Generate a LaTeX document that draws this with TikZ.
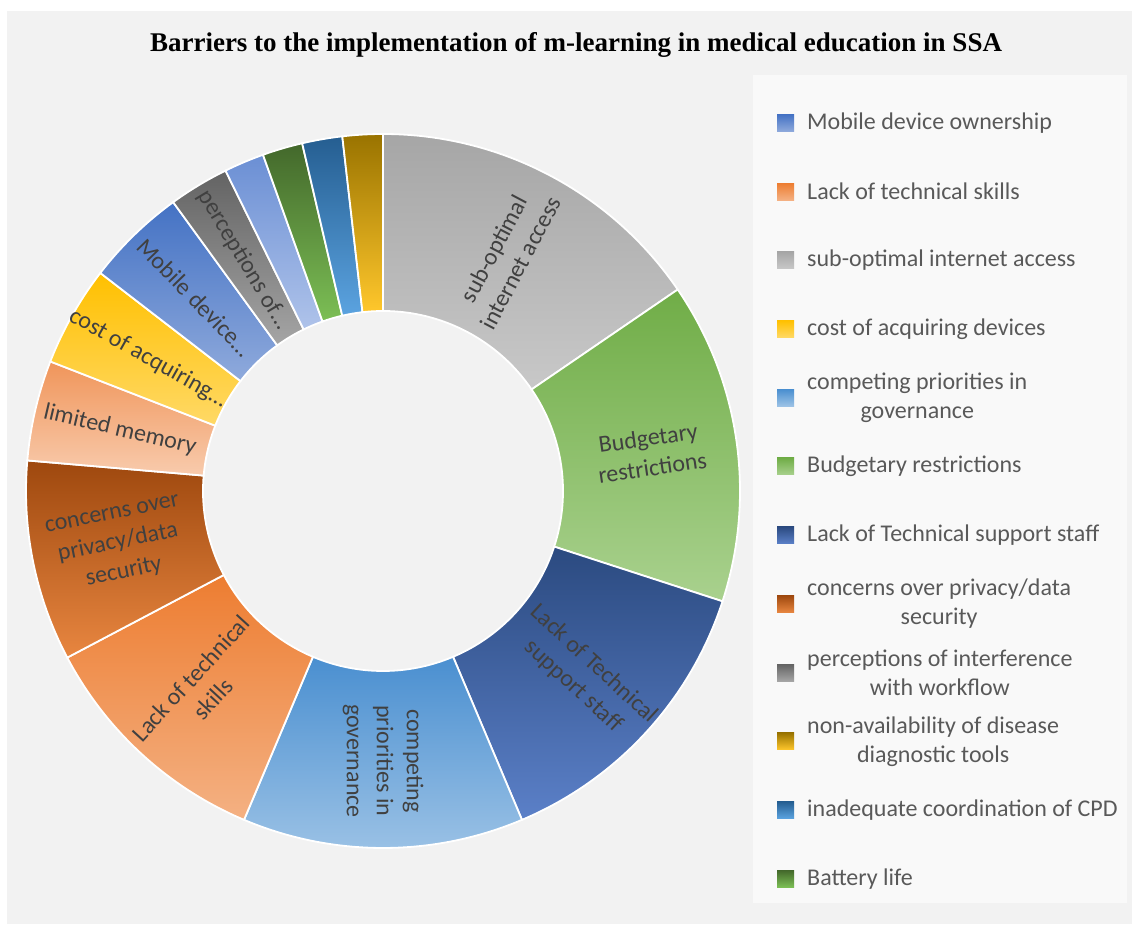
\documentclass[tikz,border=0pt]{standalone}
\usepackage{fontspec}
\setmainfont{Carlito}
\newfontfamily\titlefont{Liberation Serif}
\definecolor{bgcol}{HTML}{F2F2F2}
\definecolor{legbg}{HTML}{F9F9F9}
\definecolor{lbltext}{HTML}{404040}
\definecolor{legtext}{HTML}{595959}
% segment colours (top / bottom)
\definecolor{subT}{HTML}{A6A6A6}\definecolor{subB}{HTML}{C8C8C8}
\definecolor{budT}{HTML}{70AD47}\definecolor{budB}{HTML}{A9D18E}
\definecolor{ltsT}{HTML}{2B4A80}\definecolor{ltsB}{HTML}{5B80C8}
\definecolor{comT}{HTML}{4A8FD0}\definecolor{comB}{HTML}{9DC3E6}
\definecolor{lskT}{HTML}{ED7D31}\definecolor{lskB}{HTML}{F4B183}
\definecolor{conT}{HTML}{9E480E}\definecolor{conB}{HTML}{E88640}
\definecolor{limT}{HTML}{F0955A}\definecolor{limB}{HTML}{F8CBAD}
\definecolor{cosT}{HTML}{FFC000}\definecolor{cosB}{HTML}{FFD966}
\definecolor{mobT}{HTML}{4472C4}\definecolor{mobB}{HTML}{8FAADC}
\definecolor{perT}{HTML}{636363}\definecolor{perB}{HTML}{A5A5A5}
\definecolor{lbuT}{HTML}{6B8FD4}\definecolor{lbuB}{HTML}{AFC3EA}
\definecolor{batT}{HTML}{43682B}\definecolor{batB}{HTML}{7CBF55}
\definecolor{cpdT}{HTML}{255E91}\definecolor{cpdB}{HTML}{5BA3E0}
\definecolor{navT}{HTML}{997300}\definecolor{navB}{HTML}{FFC72C}
\newcommand\donutseg[4]{%
  \path[seg, top color=#3, bottom color=#4, shift={(C)}]
    (#1:357) arc[start angle=#1, end angle=#2, radius=357]
    -- (#2:180) arc[start angle=#2, end angle=#1, radius=180] -- cycle;}
\begin{document}
\begin{tikzpicture}[x=1pt,y=1pt,
  seg/.style={draw=white, line width=1.8pt},
  lbl/.style={font=\fontsize{24}{30}\selectfont, text=lbltext, align=center, inner sep=0pt},
  leg/.style={font=\fontsize{24}{29}\selectfont, text=legtext, align=center, anchor=west, inner sep=0pt},
  legsq/.style={minimum width=17pt, minimum height=17pt, inner sep=0pt, draw=none}]
\useasboundingbox (0,0) rectangle (1132,924);
\fill[white] (0,0) rectangle (1132,924);
\fill[bgcol] (7,0) rectangle (1132,913);
\node[font=\titlefont\bfseries\fontsize{27}{32}\selectfont, anchor=base] (title) at (576,872)
  {Barriers to the implementation of m-learning in medical education in SSA};
\coordinate (C) at (383,433);
% donut
\donutseg{90}{34.36}{subT}{subB}
\donutseg{34.36}{-18.00}{budT}{budB}
\donutseg{-18.00}{-67.09}{ltsT}{ltsB}
\donutseg{-67.09}{-112.91}{comT}{comB}
\donutseg{-112.91}{-152.18}{lskT}{lskB}
\donutseg{-152.18}{-184.91}{conT}{conB}
\donutseg{-184.91}{-201.27}{limT}{limB}
\donutseg{-201.27}{-217.64}{cosT}{cosB}
\donutseg{-217.64}{-234.00}{mobT}{mobB}
\donutseg{-234.00}{-243.82}{perT}{perB}
\donutseg{-243.82}{-250.36}{lbuT}{lbuB}
\donutseg{-250.36}{-256.91}{batT}{batB}
\donutseg{-256.91}{-263.45}{cpdT}{cpdB}
\donutseg{-263.45}{-270}{navT}{navB}
% labels
\node[lbl, rotate=62.18] (l1) at ([shift={(62.18:266)}]C) {sub-optimal\\internet access};
\node[lbl, rotate=8.18] (l2) at ([shift={(8.18:270)}]C) {Budgetary\\restrictions};
\node[lbl, rotate=-42.54] (l3) at ([shift={(-42.54:272)}]C) {Lack of Technical\\support staff};
\node[lbl, rotate=-90] (l4) at ([shift={(-90:270)}]C) {competing\\priorities in\\governance};
\node[lbl, rotate=47.46] (l5) at ([shift={(-132.54:268)}]C) {Lack of technical\\skills};
\node[lbl, rotate=11.46] (l6) at ([shift={(-168.54:270)}]C) {concerns over\\privacy/data\\security};
\node[lbl, rotate=-13.09] (l7) at ([shift={(166.91:270)}]C) {limited memory};
\node[lbl, rotate=-29.45] (l8) at ([shift={(150.55:270)}]C) {cost of acquiring…};
\node[lbl, rotate=-45.82] (l9) at ([shift={(134.18:270)}]C) {Mobile device…};
\node[lbl, rotate=-58.91] (l10) at ([shift={(121.09:270)}]C) {perceptions of…};
% legend
\fill[legbg] (753,21) rectangle (1127,849);
\foreach \yy/\ct/\cb/\txt [count=\i] in {
  801/mobT/mobB/{Mobile device ownership},
  732.3/lskT/lskB/{Lack of technical skills},
  663.6/subT/subB/{sub-optimal internet access},
  594.9/cosT/cosB/{cost of acquiring devices},
  526.2/comT/comB/{competing priorities in\\governance},
  457.5/budT/budB/{Budgetary restrictions},
  388.8/ltsT/ltsB/{Lack of Technical support staff},
  320.1/conT/conB/{concerns over privacy/data\\security},
  251.4/perT/perB/{perceptions of interference\\with workflow},
  182.7/navT/navB/{non-availability of disease\\diagnostic tools},
  114/cpdT/cpdB/{inadequate coordination of CPD},
  45.3/batT/batB/{Battery life}} {
  \node[legsq, top color=\ct, bottom color=\cb] (sq\i) at (785.5,\yy) {};
  \node[leg] (lt\i) at (807,\yy) {\txt};
}
\end{tikzpicture}
\end{document}
